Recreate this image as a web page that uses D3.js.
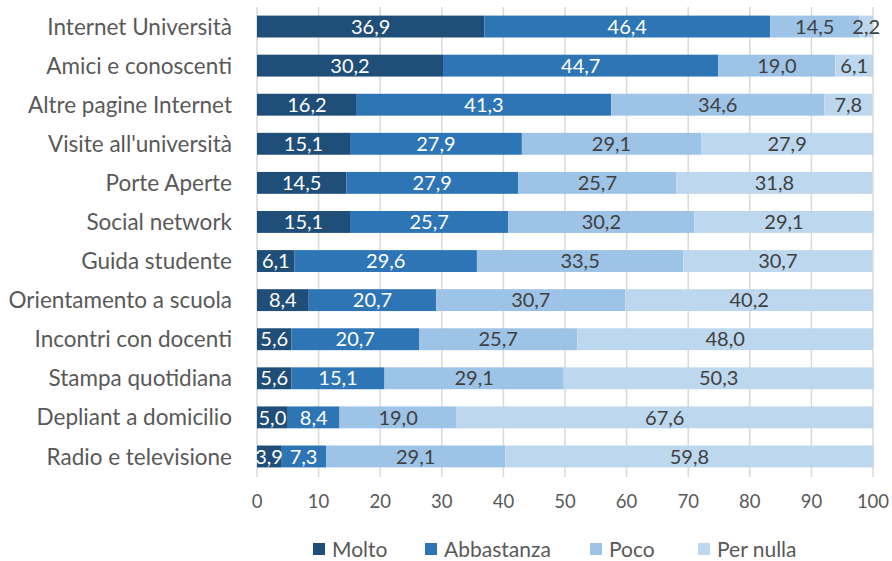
<!doctype html>
<html lang="it">
<head>
<meta charset="utf-8">
<title>Fonti di informazione</title>
<script src="https://d3js.org/d3.v7.min.js"></script>
<style>
  body { margin: 0; background: #fff; }
  svg { font-family: Lato, "Open Sans", sans-serif; }
</style>
</head>
<body>
<div id="chart"></div>
<script>
// data
const categories = [
  "Internet Università", "Amici e conoscenti", "Altre pagine Internet",
  "Visite all'università", "Porte Aperte", "Social network",
  "Guida studente", "Orientamento a scuola", "Incontri con docenti",
  "Stampa quotidiana", "Depliant a domicilio", "Radio e televisione"
];
const series = ["Molto", "Abbastanza", "Poco", "Per nulla"];
const molto      = [36.9, 30.2, 16.2, 15.1, 14.5, 15.1, 6.1, 8.4, 5.6, 5.6, 5.0, 3.9];
const abbastanza = [46.4, 44.7, 41.3, 27.9, 27.9, 25.7, 29.6, 20.7, 20.7, 15.1, 8.4, 7.3];
const poco       = [14.5, 19.0, 34.6, 29.1, 25.7, 30.2, 33.5, 30.7, 25.7, 29.1, 19.0, 29.1];
const perNulla   = [2.2, 6.1, 7.8, 27.9, 31.8, 29.1, 30.7, 40.2, 48.0, 50.3, 67.6, 59.8];
const xTicks = [0, 10, 20, 30, 40, 50, 60, 70, 80, 90, 100];

const colors = ["#1f4e79", "#2e75b6", "#9dc3e6", "#bdd7ee"];
const labelColors = ["#ffffff", "#ffffff", "#404040", "#404040"];

const width = 892, height = 561;
const margin = {top: 7, right: 19, bottom: 85, left: 257};

const svg = d3.select("#chart").append("svg")
    .attr("width", width)
    .attr("height", height);

// clip for value labels (Excel cuts them at the plot edge)
svg.append("clipPath").attr("id", "plotClip")
  .append("rect")
    .attr("x", margin.left - 6).attr("y", 0)
    .attr("width", width - margin.left + 6).attr("height", height);

const rows = categories.map((c, i) => ({
  cat: c, Molto: molto[i], Abbastanza: abbastanza[i], Poco: poco[i], "Per nulla": perNulla[i]
}));
const stacked = d3.stack().keys(series)(rows);

const x = d3.scaleLinear().domain([0, 100]).range([margin.left, width - margin.right]);
const y = d3.scaleBand().domain(categories)
    .range([margin.top, height - margin.bottom])
    .paddingInner(0.44).paddingOuter(0.22);

// gridlines
svg.append("g")
  .selectAll("line")
  .data(xTicks)
  .join("line")
    .attr("x1", d => x(d)).attr("x2", d => x(d))
    .attr("y1", margin.top).attr("y2", height - margin.bottom + 1)
    .attr("stroke", "#d9d9d9")
    .attr("stroke-width", 1.5);

// bars
const layer = svg.append("g")
  .selectAll("g")
  .data(stacked)
  .join("g")
    .attr("fill", (d, i) => colors[i]);

layer.selectAll("rect")
  .data(d => d)
  .join("rect")
    .attr("x", d => x(d[0]))
    .attr("y", d => y(d.data.cat))
    .attr("width", d => x(d[1]) - x(d[0]))
    .attr("height", y.bandwidth());

// value labels
svg.append("g")
    .attr("clip-path", "url(#plotClip)")
  .selectAll("g")
  .data(stacked)
  .join("g")
    .attr("fill", (d, i) => labelColors[i])
  .selectAll("text")
  .data(d => d)
  .join("text")
    .attr("x", d => (x(d[0]) + x(d[1])) / 2)
    .attr("y", d => y(d.data.cat) + y.bandwidth() / 2)
    .attr("dy", "0.36em")
    .attr("text-anchor", "middle")
    .style("font-size", "20px")
    .text(d => d3.format(".1f")(d[1] - d[0]).replace(".", ","));

// category labels
svg.append("g")
  .selectAll("text")
  .data(categories)
  .join("text")
    .attr("x", margin.left - 25)
    .attr("y", d => y(d) + y.bandwidth() / 2)
    .attr("dy", "0.36em")
    .attr("text-anchor", "end")
    .attr("fill", "#595959")
    .style("font-size", "22.5px")
    .text(d => d);

// x axis labels
svg.append("g")
  .selectAll("text")
  .data(xTicks)
  .join("text")
    .attr("x", d => x(d))
    .attr("y", 501)
    .attr("dy", "0.36em")
    .attr("text-anchor", "middle")
    .attr("fill", "#595959")
    .style("font-size", "18.5px")
    .text(d => d);

// legend
const legendX = [313, 425, 590, 698];
const legend = svg.append("g")
  .selectAll("g")
  .data(series)
  .join("g")
    .attr("transform", (d, i) => `translate(${legendX[i]},549)`);

legend.append("rect")
    .attr("x", 0).attr("y", -6)
    .attr("width", 12).attr("height", 12)
    .attr("fill", (d, i) => colors[i]);

legend.append("text")
    .attr("x", 19)
    .attr("dy", "0.36em")
    .attr("fill", "#595959")
    .style("font-size", "21px")
    .text(d => d);
</script>
</body>
</html>
